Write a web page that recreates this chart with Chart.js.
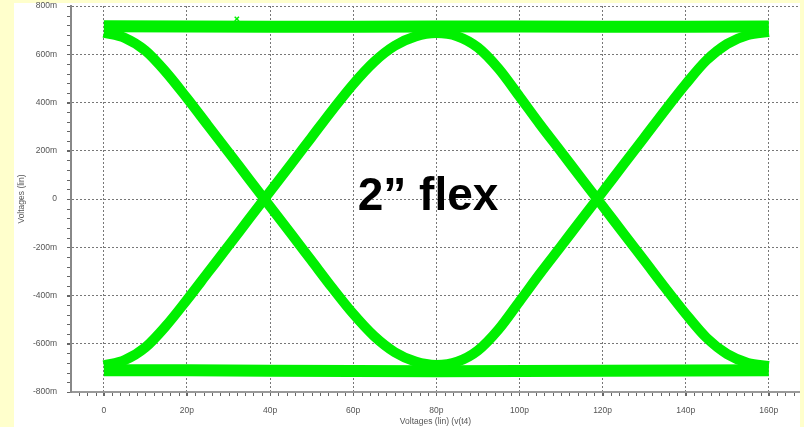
<!DOCTYPE html>
<html>
<head>
<meta charset="utf-8">
<script src="https://cdn.jsdelivr.net/npm/chart.js@4/dist/chart.umd.min.js"></script>
<style>
  html, body { margin: 0; padding: 0; background: #ffffcc; }
  #panel { position: absolute; left: 14px; top: 3px; width: 786px; height: 424px; background: #fff; }
  #eye { position: absolute; left: 14px; top: 0; }
</style>
</head>
<body>
<div id="panel"></div>
<canvas id="eye" width="786" height="427"></canvas>
<script>
// time axis in ps, voltages in mV
const times = [0, 5, 10, 15, 20, 25, 30, 35, 40, 45, 50, 55, 60, 65, 70, 75, 80,
  85, 90, 95, 100, 105, 110, 115, 120, 125, 130, 135, 140, 145, 150, 155, 160];

// falling edge first, then rising back up
const fallRise = [690, 668, 615, 525, 418, 306, 194, 81, -31, -143, -256, -369, -476, -568, -635, -674, -688,
  -675, -628, -540, -425, -308, -196, -83, 29, 142, 254, 367, 476, 575, 643, 680, 692];

// rising edge first, then falling back down
const riseFall = [-690, -668, -615, -525, -418, -306, -194, -81, 31, 143, 256, 369, 476, 568, 635, 674, 688,
  675, 628, 540, 425, 308, 196, 83, -29, -142, -254, -367, -476, -575, -643, -680, -692];

// flat "1" and "0" levels
const bandTimes = [0, 20, 40, 60, 80, 100, 120, 140, 160];
const highLevel = [716, 715, 714, 714, 715, 715, 714, 714, 715];
const lowLevel = [-710, -710, -712, -713, -714, -713, -712, -711, -710];

const xTicks = [0, 20, 40, 60, 80, 100, 120, 140, 160];
const marker = [{ x: 32, y: 747 }];

const GREEN = '#00f000';
const pts = (xs, ys) => xs.map((x, i) => ({ x, y: ys[i] }));

const lineDs = (data, width, smooth) => ({
  data, borderColor: GREEN, borderWidth: width, pointRadius: 0,
  cubicInterpolationMode: smooth ? 'monotone' : 'default', tension: 0, fill: false,
});

const tickFont = { family: 'Liberation Sans, Arial, sans-serif', size: 8.5 };

// small minor ticks along both axes
const minorTicks = {
  id: 'minorTicks',
  afterDraw(chart) {
    const { ctx, chartArea: a, scales: { x, y } } = chart;
    ctx.save();
    ctx.strokeStyle = '#666';
    ctx.lineWidth = 1;
    ctx.beginPath();
    for (let v = -6; v <= 166; v += 2) {
      const px = Math.round(x.getPixelForValue(v)) + 0.5;
      ctx.moveTo(px, a.bottom + 1);
      ctx.lineTo(px, a.bottom + 4);
    }
    for (let v = -800; v <= 800; v += 40) {
      const py = Math.round(y.getPixelForValue(v)) + 0.5;
      ctx.moveTo(a.left - 4, py);
      ctx.lineTo(a.left - 1, py);
    }
    ctx.stroke();
    ctx.restore();
  }
};

const flexLabel = {
  id: 'flexLabel',
  afterDatasetsDraw(chart) {
    const { ctx, scales: { x, y } } = chart;
    ctx.save();
    ctx.font = 'bold 46px "Liberation Sans", Arial, sans-serif';
    ctx.fillStyle = '#000';
    ctx.textAlign = 'center';
    ctx.textBaseline = 'alphabetic';
    ctx.fillText('2\u201D flex', x.getPixelForValue(78), y.getPixelForValue(-45));
    ctx.restore();
  }
};

new Chart(document.getElementById('eye'), {
  type: 'line',
  data: {
    datasets: [
      lineDs(pts(bandTimes, highLevel), 12, false),
      lineDs(pts(bandTimes, lowLevel), 12, false),
      lineDs(pts(times, fallRise), 10, true),
      lineDs(pts(times, riseFall), 10, true),
      {
        data: marker, showLine: false, pointStyle: 'crossRot', pointRadius: 3,
        borderColor: GREEN, borderWidth: 1.5,
      },
    ],
  },
  options: {
    responsive: false,
    animation: false,
    layout: { autoPadding: false, padding: { top: 6, left: 0, right: 0, bottom: 0 } },
    plugins: { legend: { display: false }, tooltip: { enabled: false } },
    scales: {
      x: {
        type: 'linear', min: -7.9, max: 167.5,
        afterBuildTicks: s => { s.ticks = xTicks.map(v => ({ value: v })); },
        afterFit: s => { s.height = 35; s.paddingLeft = 0; s.paddingRight = 0; },
        grid: { color: '#777', lineWidth: 1, tickLength: 4, tickColor: '#666' },
        border: { display: true, color: '#999', width: 2, dash: [2, 2] },
        ticks: { font: tickFont, color: '#555', padding: 10, maxRotation: 0,
          callback: v => (v === 0 ? '0' : v + 'p') },
        title: { display: true, text: 'Voltages (lin) (v(t4)', font: tickFont, color: '#555',
          padding: { top: 0, bottom: 0.5 } },
      },
      y: {
        min: -800, max: 800,
        afterFit: s => { s.width = 57; s.paddingTop = 0; s.paddingBottom = 0; },
        grid: { color: '#777', lineWidth: 1, tickLength: 4, tickColor: '#666' },
        border: { display: true, color: '#888', width: 2, dash: [2, 2] },
        ticks: { stepSize: 200, font: tickFont, color: '#555', padding: 10,
          callback: v => (v === 0 ? '0' : v + 'm') },
        title: { display: true, text: 'Voltages (lin)', font: tickFont, color: '#555',
          padding: { top: 3, bottom: 0 } },
      },
    },
  },
  plugins: [minorTicks, flexLabel],
});
</script>
</body>
</html>
